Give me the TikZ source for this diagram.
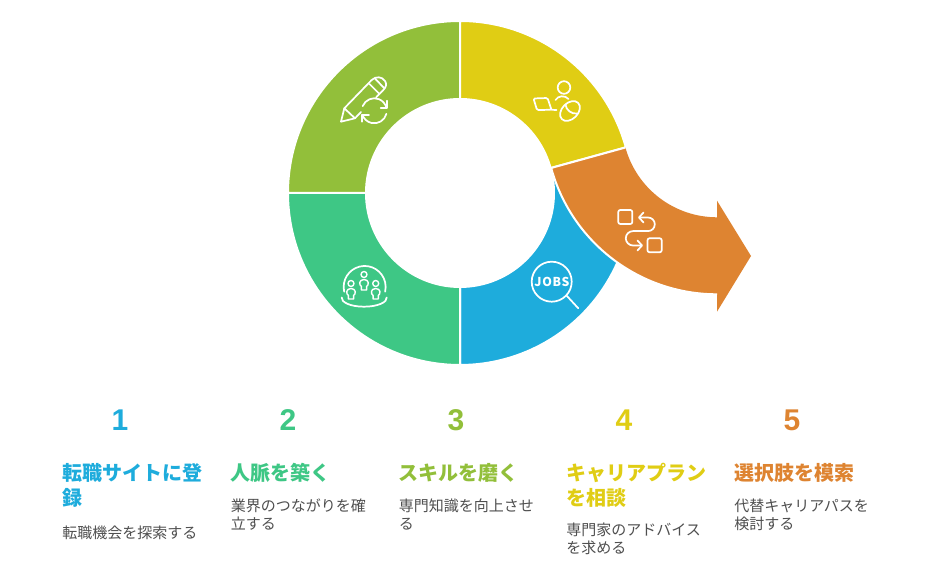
\documentclass[tikz,border=0pt]{standalone}
\usepackage{fontspec}
\usetikzlibrary{calc}
\setmainfont{Liberation Sans}
\newfontfamily\jp{Noto Sans CJK JP}
\newfontfamily\jobsfont[LetterSpace=6]{Noto Sans CJK JP}
\newfontfamily\numfont{Liberation Sans}
\definecolor{cblue}{HTML}{1EACDC}
\definecolor{cgreen}{HTML}{3EC785}
\definecolor{colive}{HTML}{92BF3A}
\definecolor{cyellow}{HTML}{E0CD14}
\definecolor{corange}{HTML}{DE8431}
\definecolor{cbody}{HTML}{4F4F4F}
\tikzset{
  seg/.style={draw=white,line width=1.5pt,line join=miter},
  icon/.style={draw=white,line width=1.3pt,line cap=round,line join=round,fill=none},
  thinicon/.style={icon,line width=1.05pt},
  numlabel/.style={font=\numfont\fontsize{22.5}{26}\bfseries\selectfont,inner sep=0pt,anchor=center},
  headlabel/.style={font=\jp\fontsize{15}{18.75}\bfseries\selectfont,inner sep=0pt,anchor=north west,align=left,text width=125pt},
  bodylabel/.style={font=\jp\fontsize{11.25}{13.5}\selectfont,text=cbody,inner sep=0pt,anchor=north west,align=left,text width=125pt},
}
\newcommand{\ringseg}[3]{%
  \path[seg,fill=#1] (#2:172) arc[start angle=#2,end angle=#3,radius=172] -- (#3:94) arc[start angle=#3,end angle=#2,radius=94] -- cycle;}
\newcommand{\person}[2]{%
  \draw[thinicon] (#1,#2) circle[radius=3];
  \draw[thinicon] (#1-2.6,#2+15.5) -- (#1-2.6,#2+12) .. controls (#1-5,#2+10.5) and (#1-5.4,#2+5.2) .. (#1,#2+5)
     .. controls (#1+5.4,#2+5.2) and (#1+5,#2+10.5) .. (#1+2.6,#2+12) -- (#1+2.6,#2+15.5) -- cycle;}
\begin{document}
\begin{tikzpicture}[x=0.75pt,y=0.75pt]
\useasboundingbox (0,0) rectangle (936,585);
\fill[white] (0,0) rectangle (936,585);
% ring
\begin{scope}[shift={(460,392)}]
  \ringseg{cblue}{270}{375.4}
  \ringseg{cgreen}{180}{270}
  \ringseg{colive}{90}{180}
  \ringseg{cyellow}{15.4}{90}
\end{scope}
% arrow
\coordinate (cc) at (717,462.7);
\fill[corange] ($(cc)+(195.4:95)$) arc[start angle=195.4,end angle=270,radius=95]
  -- (717,384.3) -- (751,329) -- (717,273.3) -- (717,290.7)
  arc[start angle=270,end angle=195.4,radius=172] -- cycle;
\draw[white,line width=1.5pt] ($(cc)+(195.4:95)$) -- ($(cc)+(195.4:172)$)
  arc[start angle=195.4,end angle=270,radius=172];
\begin{scope}[shift={(0,585)},yscale=-1]
  % yellow icon
  \draw[icon] (564,87.5) circle[radius=6.3];
  \draw[icon] (555.5,100) .. controls (558,95.5) and (565,95) .. (568.5,99);
  \draw[icon,rounded corners=1] (533.5,98.5) -- (547.5,98) -- (551.5,109.8) -- (537,110) -- cycle;
  \draw[icon] (551.5,109.8) -- (556.5,110);
  \draw[icon,rotate around={-45:(570,111)}] (570,111) ellipse[x radius=11.5,y radius=8];
  \draw[icon] (565.5,104.5) .. controls (566,110) and (571.5,114.5) .. (577.5,113.5);
  % jobs icon
  \draw[icon] (551.7,281.7) circle[radius=20];
  \draw[icon] (566.5,295.5) -- (578.3,308.3);
  \node[text=white,inner sep=0pt,font=\jobsfont\fontsize{9.2}{10}\bfseries\selectfont] (jobs) at (552,282) {JOBS};
  % orange icon
  \draw[icon,rounded corners=1.5] (618.3,210) rectangle (632.3,224);
  \draw[icon,rounded corners=1.5] (647.5,238.3) rectangle (661.7,252.3);
  \draw[icon] (639.5,217.5) -- (648,217.5) arc[start angle=-90,end angle=90,radius=6.8] -- (633,231.1)
     arc[start angle=270,end angle=90,radius=7.2] -- (641.5,245.5);
  \draw[icon] (643.5,212.5) -- (639,217.5) -- (643.5,222.5);
  \draw[icon] (637.5,240.5) -- (642,245.5) -- (637.5,250.5);
  % pencil icon
  \draw[icon] (344.3,108.3) -- (341,121.7) -- (355,118.3) -- cycle;
  \draw[icon] (344.3,108.3) -- (371.7,80) .. controls (376,76) and (382,76.5) .. (385,81)
     .. controls (387,84) and (386,87.5) .. (383.3,90) -- (376,97.5);
  \draw[icon] (355,118.3) -- (361,112);
  \draw[icon] (369.5,84) -- (379,93.5);
  \draw[icon] (375,78.5) -- (384,88);
  \draw[icon] (362.7,106.1) arc[start angle=202,end angle=346,radius=12.5];
  \draw[icon] (386.4,113.8) arc[start angle=14,end angle=162,radius=12.5];
  \draw[icon] (386.7,100.7) -- (386.7,107.7) -- (380.7,107.7);
  \draw[icon] (361.7,121.7) -- (361.7,115) -- (369,115);
  % group icon
  \draw[icon] (344.2,291.7) arc[start angle=167,end angle=373,radius=21];
  \draw[icon] (341.7,297.5) .. controls (341,302) and (350,306.7) .. (364,306.7) .. controls (378,306.7) and (387.5,302) .. (386.7,297.5);
  \person{364}{274.5}
  \person{351}{283.5}
  \person{375.7}{283.5}
  % labels
  \node[numlabel,text=cblue] (n1) at (120,420) {1};
  \node[numlabel,text=cgreen] (n2) at (288,420) {2};
  \node[numlabel,text=colive] (n3) at (456,420) {3};
  \node[numlabel,text=cyellow] (n4) at (624,420) {4};
  \node[numlabel,text=corange] (n5) at (792,420) {5};
  \node[headlabel,text=cblue] (h1) at (62,463) {転職サイトに登\\録};
  \node[headlabel,text=cgreen] (h2) at (230.5,463) {人脈を築く};
  \node[headlabel,text=colive] (h3) at (398.5,463) {スキルを磨く};
  \node[headlabel,text=cyellow] (h4) at (566,463) {キャリアプラン\\を相談};
  \node[headlabel,text=corange] (h5) at (734,463) {選択肢を模索};
  \node[bodylabel] (b1) at (62,526) {転職機会を探索する};
  \node[bodylabel] (b2) at (230.5,499) {業界のつながりを確\\立する};
  \node[bodylabel] (b3) at (398.5,499) {専門知識を向上させ\\る};
  \node[bodylabel] (b4) at (566,523) {専門家のアドバイス\\を求める};
  \node[bodylabel] (b5) at (734,499) {代替キャリアパスを\\検討する};
\end{scope}
\end{tikzpicture}
\end{document}
